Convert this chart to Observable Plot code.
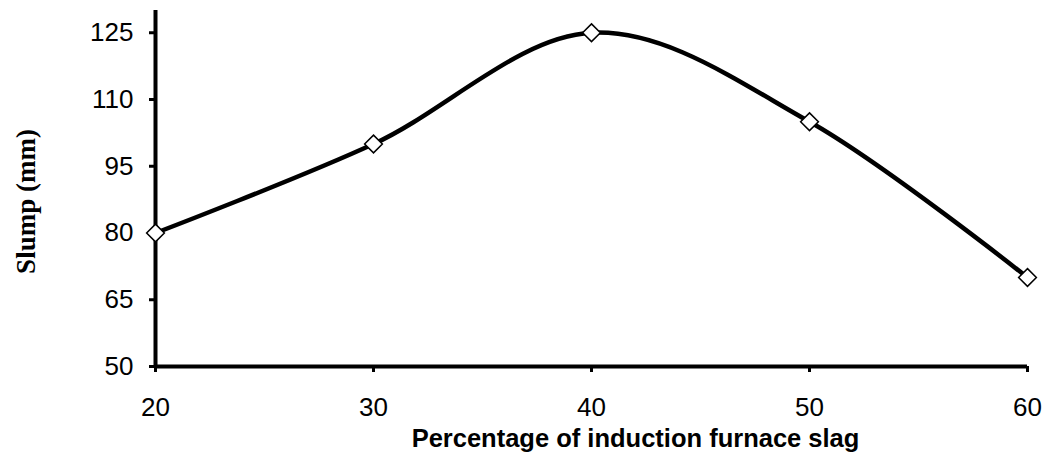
<!DOCTYPE html>
<html><head><meta charset="utf-8">
<script src="https://cdn.jsdelivr.net/npm/d3@7"></script>
<script src="https://cdn.jsdelivr.net/npm/@observablehq/plot@0.6"></script>
<style>body{margin:0;background:#fff}</style>
</head><body><div id="chart"></div>
<script>
const slagPercent = [20, 30, 40, 50, 60];
const slumpMm = [80, 100, 125, 105, 70];
const xTicks = [20, 30, 40, 50, 60];
const yTicks = [50, 65, 80, 95, 110, 125];
const xLabel = "Percentage of induction furnace slag";
const yLabel = "Slump (mm)";

const data = slagPercent.map((x, i) => ({x, y: slumpMm[i]}));

const chart = Plot.plot({
  width: 1044, height: 455,
  marginLeft: 155, marginRight: 17, marginTop: 10, marginBottom: 89,
  style: {fontFamily: "Liberation Sans, Arial, sans-serif", fontSize: "26px", color: "#000", background: "#fff"},
  x: {domain: [20, 60]},
  y: {domain: [50, 130]},
  marks: [
    Plot.axisX({ticks: xTicks, tickSize: 6, tickPadding: 25, strokeWidth: 3, label: null, fontSize: 26}),
    Plot.axisY({ticks: yTicks, tickSize: 6, tickPadding: 16, strokeWidth: 3, label: null, fontSize: 26}),
    Plot.ruleX([20], {strokeWidth: 4}),
    Plot.ruleY([50], {strokeWidth: 4}),
    Plot.line(data, {x: "x", y: "y", curve: "cardinal", stroke: "black", strokeWidth: 4.5}),
    Plot.dot(data, {x: "x", y: "y", symbol: "diamond2", r: 8, fill: "white", stroke: "black", strokeWidth: 1.5}),
    Plot.text([xLabel], {frameAnchor: "bottom", dx: 44, dy: 80, fontWeight: "bold", fontSize: 25.5, text: d => d}),
    Plot.text([yLabel], {frameAnchor: "left", textAnchor: "middle", dx: -129, dy: 13, rotate: -90, fontWeight: "bold", fontSize: 27, fontFamily: "Liberation Serif, Times New Roman, serif", text: d => d})
  ]
});
document.getElementById("chart").appendChild(chart);
</script></body></html>
